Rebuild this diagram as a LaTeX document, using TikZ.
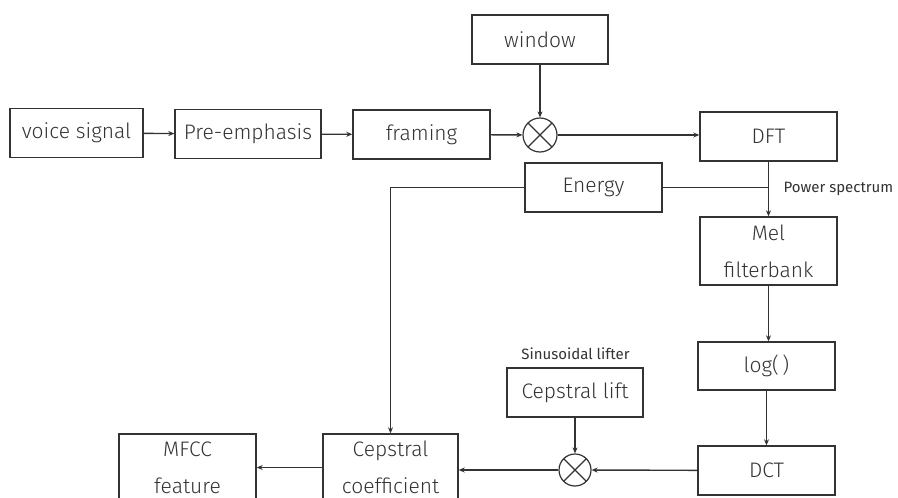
\documentclass[tikz,border=0pt]{standalone}
\usepackage{fontspec}
\usetikzlibrary{arrows.meta}
\newfontfamily\blockfont{Fira Sans Light}
\newfontfamily\notefont{Fira Sans}
\definecolor{ink}{HTML}{333333}
\begin{document}
\begin{tikzpicture}[x=1pt,y=-1pt,
  every node/.style={text=ink},
  blk/.style={draw=ink, line width=1.4pt, rectangle, inner sep=0pt,
    minimum width=137, minimum height=49, align=center,
    font={\blockfont\fontsize{21}{37}\selectfont}},
  mult/.style={draw=ink, line width=1.2pt, circle, minimum size=34, inner sep=0pt,
    path picture={\draw[ink, line width=1.2pt]
      (path picture bounding box.north west) -- (path picture bounding box.south east)
      (path picture bounding box.south west) -- (path picture bounding box.north east);}},
  flow/.style={draw=ink, line width=1.4pt, -{Stealth[length=6pt,width=5pt]}},
  wire/.style={draw=ink, line width=1.4pt},
  note/.style={font={\notefont\fontsize{15}{17}\selectfont}}]
\clip (0,0) rectangle (898,498);
\fill[white] (0,0) rectangle (898,498);

% top row
\node[blk, minimum width=133] (voice) at (76.5,133) {voice signal};
\node[blk, minimum width=146] (pre) at (248,134) {Pre-emphasis};
\node[blk] (framing) at (421.5,134.5) {framing};
\node[blk, minimum width=136] (window) at (540,39.5) {window};
\node[mult] (m1) at (540,135) {};
\node[blk] (dft) at (768.5,136.5) {DFT};

% spectral branch
\node[blk] (energy) at (593.5,187.5) {Energy};
\node[blk, minimum height=68] (mel) at (768.5,251) {Mel\\filterbank};
\node[blk, minimum height=48] (log) at (766.5,366) {log(\,)};
\node[blk] (dct) at (766.5,470.5) {DCT};

% liftering and output
\node[blk, minimum width=136] (lift) at (575,392.5) {Cepstral lift};
\node[mult, minimum size=32] (m2) at (575,470) {};
\node[blk, minimum width=135, minimum height=67] (ceps) at (390.5,467.5) {Cepstral\\coefficient};
\node[blk, minimum height=67] (mfcc) at (187.5,467.5) {MFCC\\feature};

% annotations
\node[note, anchor=base west] (pslabel) at (780,192) {Power spectrum};
\node[note, anchor=base] (sllabel) at (575.5,359) {Sinusoidal lifter};

% connectors
\draw[flow] (voice) -- (pre);
\draw[flow] (pre) -- (framing);
\draw[flow] (framing) -- (m1);
\draw[flow] (window) -- (m1);
\draw[flow] (m1) -- (dft.west |- m1);
\draw[flow] (dft) -- (mel);
\draw[wire] (energy.east) -- (dft.south |- energy.east);
\draw[flow] (energy.west) -| (ceps.north);
\draw[flow] (mel) -- (mel.south |- log.north);
\draw[flow] (log) -- (log.south |- dct.north);
\draw[flow] (dct) -- (m2);
\draw[flow] (lift) -- (m2);
\draw[flow] (m2) -- (ceps.east |- m2);
\draw[flow] (ceps) -- (mfcc);
\end{tikzpicture}
\end{document}
